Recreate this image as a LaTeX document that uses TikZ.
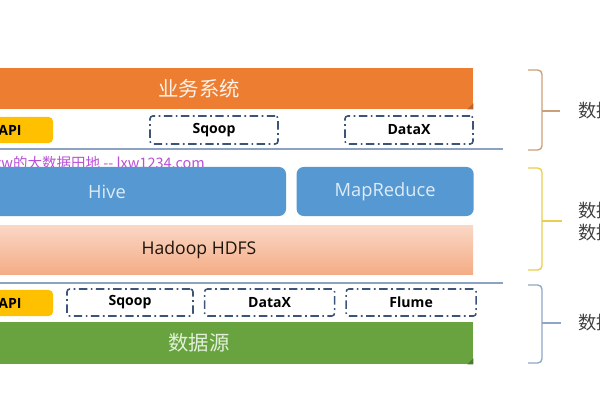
\documentclass[tikz,border=0pt]{standalone}
\usepackage{fontspec}
\setmainfont{Open Sans}
\newfontfamily\cjk{Noto Sans CJK SC}
\usetikzlibrary{positioning, calc}
\definecolor{cOrange}{RGB}{237,125,49}
\definecolor{cBlue}{RGB}{86,152,210}
\definecolor{cBlueText}{RGB}{222,236,248}
\definecolor{cSalmonTop}{RGB}{250,215,196}
\definecolor{cSalmonBot}{RGB}{244,172,134}
\definecolor{cGreen}{RGB}{104,163,64}
\definecolor{cGreenText}{RGB}{226,240,217}
\definecolor{cYellow}{RGB}{255,192,0}
\definecolor{cSlate}{RGB}{60,84,120}
\definecolor{cLine}{RGB}{140,162,192}
\definecolor{cTan}{RGB}{201,160,122}
\definecolor{cGold}{RGB}{232,207,80}
\definecolor{cSteel}{RGB}{143,166,198}
\definecolor{cMark}{RGB}{184,80,214}
\tikzset{
  basebox/.style={rectangle, inner sep=0pt, align=center},
  layerbar/.style={basebox, minimum width=13.7cm,
                   font=\cjk\fontsize{14.5}{16}\selectfont},
  enginebox/.style={basebox, fill=cBlue, rounded corners=5pt,
                    minimum height=1.225cm, text=cBlueText,
                    font=\fontsize{13}{15}\selectfont},
  apibox/.style={basebox, fill=cYellow, rounded corners=3pt,
                 minimum width=2.15cm, minimum height=0.65cm,
                 font=\bfseries\fontsize{10}{12}\selectfont},
  toolbox/.style={basebox, draw=cSlate, fill=white, line width=1.1pt,
                  dash pattern=on 6pt off 2.5pt on 1.2pt off 2.5pt,
                  rounded corners=2pt, minimum height=0.7cm,
                  font=\bfseries\fontsize{10}{12}\selectfont},
  sepline/.style={draw=cLine, line width=1pt},
  bracket/.style={line width=1pt, rounded corners=3pt},
  sidelabel/.style={anchor=west, inner sep=0pt, text=black!75,
                    font=\cjk\fontsize{13}{15}\selectfont}
}
\begin{document}
\begin{tikzpicture}[x=0.025cm, y=-0.025cm]
  \useasboundingbox (0,0) rectangle (600,400);

  % Business layer
  \node[layerbar, fill=cOrange, minimum height=1.025cm, text=white!90!cOrange]
      (biz) at (199,88.5) {业务系统};
  \fill[cOrange!80!black] ($(biz.south east)+(-6,0)$) -- ($(biz.south east)+(0,-6)$)
      -- (biz.south east) -- cycle;

  % Export tools
  \node[apibox] (apiout) at (10,130) {API};
  \node[toolbox, minimum width=3.2cm] (sqoopout) at (214,130) {Sqoop};
  \node[toolbox, minimum width=3.2cm] (dataxout) at (409,130) {DataX};

  \coordinate (lineoutA) at (0,149);
  \coordinate (lineoutB) at (503,149);
  \draw[sepline] (lineoutA) -- (lineoutB);

  % Watermark
  \node[anchor=east, inner sep=0pt, text=cMark, font=\cjk\fontsize{10.3}{12}\selectfont]
      (mark) at (205,163) {lxw的大数据田地 -- lxw1234.com};

  % Compute and storage
  \node[enginebox, minimum width=8.95cm] (hive) at (107,191.5) {Hive};
  \node[enginebox, minimum width=4.425cm, right=0.25cm of hive] (mapred) {MapReduce};
  \node[layerbar, top color=cSalmonTop, bottom color=cSalmonBot, minimum height=1.2cm,
        text=black!85!brown, font=\fontsize{12.5}{15}\selectfont]
      (hdfs) at (199,250) {Hadoop HDFS};

  \coordinate (lineinA) at (0,283);
  \coordinate (lineinB) at (503,283);
  \draw[sepline] (lineinA) -- (lineinB);

  % Import tools
  \node[apibox] (apiin) at (10,303) {API};
  \node[toolbox, minimum width=3.15cm, minimum height=0.675cm] (sqoopin) at (130,302.5) {Sqoop};
  \node[toolbox, minimum width=3.25cm, minimum height=0.675cm, right=0.25cm of sqoopin] (dataxin) {DataX};
  \node[toolbox, minimum width=3.25cm, minimum height=0.675cm, right=0.25cm of dataxin] (flume) {Flume};

  % Data source layer
  \node[layerbar, fill=cGreen, minimum height=1.05cm, text=cGreenText]
      (src) at (199,343) {数据源};
  \fill[cGreen!75!black] ($(src.south east)+(-6,0)$) -- ($(src.south east)+(0,-6)$)
      -- (src.south east) -- cycle;

  % Brackets
  \coordinate (btA) at (528,70);  \coordinate (btB) at (528,150);
  \coordinate (bmA) at (528,168); \coordinate (bmB) at (528,270);
  \coordinate (bbA) at (528,285); \coordinate (bbB) at (528,363);
  \draw[bracket, cTan] (btA) -- ++(14,0) |- (btB);
  \draw[bracket, cTan] (542,111) -- (560,111);
  \draw[bracket, cGold] (bmA) -- ++(14,0) |- (bmB);
  \draw[bracket, cGold] (542,221) -- (562,221);
  \draw[bracket, cSteel] (bbA) -- ++(14,0) |- (bbB);
  \draw[bracket, cSteel] (542,323) -- (561,323);

  % Side labels
  \node[sidelabel] (labout) at (578,111) {数据};
  \node[sidelabel] (labcalc) at (578,211) {数据};
  \node[sidelabel] (labstore) at (578,233) {数据};
  \node[sidelabel] (labin) at (578,323) {数据};
\end{tikzpicture}
\end{document}
